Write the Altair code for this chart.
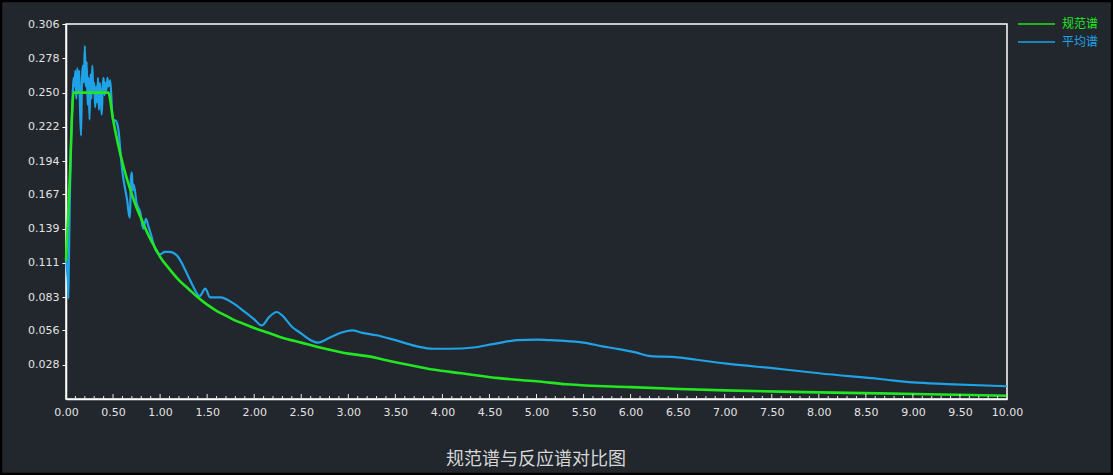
import altair as alt
import pandas as pd

# ---- data ----
code_T = [0.0, 0.04, 0.08, 0.10, 0.45, 0.50, 0.55, 0.60, 0.65, 0.70, 0.75, 0.80, 0.85, 0.90,
          0.95, 1.00, 1.10, 1.20, 1.30, 1.40, 1.50, 1.60, 1.70, 1.80, 1.90, 2.00, 2.15, 2.30,
          2.50, 2.70, 3.00, 3.20, 3.50, 3.70, 3.90, 4.20, 4.60, 5.00, 5.32, 6.00, 6.52, 7.00,
          7.59, 8.00, 8.65, 9.30, 10.00]
code_v = [0.113, 0.180, 0.250, 0.250, 0.250, 0.228, 0.209, 0.193, 0.179, 0.167, 0.156, 0.147,
          0.138, 0.130, 0.123, 0.116, 0.106, 0.097, 0.090, 0.083, 0.077, 0.072, 0.068, 0.064,
          0.061, 0.058, 0.054, 0.050, 0.046, 0.042, 0.037, 0.035, 0.030, 0.027, 0.024, 0.021,
          0.017, 0.0145, 0.012, 0.0097, 0.0082, 0.0070, 0.0060, 0.0054, 0.0046, 0.0037, 0.0027]

avg_T = [0.00, 0.01, 0.02, 0.025, 0.03, 0.04, 0.05, 0.06, 0.07, 0.08, 0.09, 0.10, 0.11, 0.12,
         0.13, 0.14, 0.15, 0.16, 0.17, 0.18, 0.19, 0.20, 0.21, 0.22, 0.23, 0.24, 0.25, 0.26,
         0.27, 0.28, 0.29, 0.30, 0.31, 0.32, 0.33, 0.34, 0.35, 0.36, 0.37, 0.38, 0.39, 0.40,
         0.41, 0.42, 0.43, 0.44, 0.45, 0.47, 0.49, 0.50, 0.53, 0.56, 0.58, 0.60, 0.62, 0.65,
         0.67, 0.68, 0.69, 0.70, 0.71, 0.72, 0.75, 0.79, 0.82, 0.85, 0.875, 0.90, 0.95, 1.00,
         1.05, 1.10, 1.18, 1.25, 1.30, 1.35, 1.42, 1.48, 1.53, 1.64, 1.78, 1.90, 2.00, 2.08,
         2.16, 2.24, 2.30, 2.40, 2.49, 2.60, 2.68, 2.80, 2.92, 3.04, 3.15, 3.30, 3.50, 3.73,
         3.90, 4.08, 4.33, 4.55, 4.79, 5.00, 5.14, 5.30, 5.50, 5.70, 5.85, 6.05, 6.21, 6.50,
         6.70, 7.00, 7.59, 8.00, 8.65, 9.00, 9.36, 10.00]
avg_v = [0.117, 0.105, 0.095, 0.082, 0.110, 0.160, 0.200, 0.225, 0.245, 0.262, 0.255, 0.268,
         0.245, 0.270, 0.250, 0.268, 0.235, 0.215, 0.262, 0.272, 0.258, 0.288, 0.255, 0.275,
         0.240, 0.262, 0.228, 0.265, 0.245, 0.272, 0.250, 0.258, 0.238, 0.255, 0.242, 0.262,
         0.236, 0.258, 0.245, 0.232, 0.255, 0.262, 0.248, 0.258, 0.252, 0.262, 0.255, 0.260,
         0.235, 0.228, 0.227, 0.218, 0.200, 0.185, 0.175, 0.162, 0.150, 0.148, 0.180, 0.185,
         0.170, 0.175, 0.160, 0.152, 0.139, 0.147, 0.141, 0.135, 0.122, 0.118, 0.120, 0.120,
         0.117, 0.108, 0.100, 0.092, 0.084, 0.090, 0.083, 0.083, 0.078, 0.071, 0.065, 0.060,
         0.067, 0.071, 0.068, 0.059, 0.054, 0.048, 0.046, 0.050, 0.054, 0.056, 0.054, 0.052,
         0.048, 0.043, 0.041, 0.041, 0.042, 0.045, 0.048, 0.0485, 0.048, 0.0475, 0.046, 0.043,
         0.041, 0.038, 0.035, 0.034, 0.032, 0.029, 0.0245, 0.021, 0.0163, 0.0135, 0.0122, 0.0104]

series_names = ["规范谱", "平均谱"]
series_colors = ["#22e622", "#1fa3e6"]
title_text = "规范谱与反应谱对比图"

y_ticks = [0.028, 0.056, 0.083, 0.111, 0.139, 0.167, 0.194, 0.222, 0.250, 0.278, 0.306]
x_major = [i * 0.5 for i in range(21)]
x_minor = [i * 0.1 for i in range(101) if i % 5 != 0]

# ---- chart ----
W, H = 941, 375
BG = "#22262d"
LBL = "#e2e2e2"

xscale = alt.Scale(domain=[0, 10], nice=False, zero=False)
yscale = alt.Scale(domain=[0, 0.306], nice=False)

df_avg = pd.DataFrame({"T": avg_T, "v": avg_v})
df_code = pd.DataFrame({"T": code_T, "v": code_v})


def xaxis():
    return alt.Axis(values=x_major, format=".2f", tickSize=0, labelPadding=7, grid=False,
                    domainColor="#ffffff", domainWidth=1.5, labelColor=LBL, labelFontSize=11,
                    labelFont="DejaVu Sans", labelOverlap=False, labelFlush=False, title="")


def yaxis():
    return alt.Axis(values=y_ticks, format=".3f", tickSize=4, tickColor="#ffffff", tickWidth=1,
                    labelPadding=3, grid=False, domainColor="#ffffff", domainWidth=1.5,
                    labelColor=LBL, labelFontSize=11, labelFont="DejaVu Sans", labelOverlap=False,
                    labelFlush=False, title="")


blue = alt.Chart(df_avg).mark_line(color=series_colors[1], strokeWidth=2.2, interpolate="monotone").encode(
    x=alt.X("T:Q", scale=xscale, axis=xaxis()),
    y=alt.Y("v:Q", scale=yscale, axis=yaxis()),
)
green = alt.Chart(df_code).mark_line(color=series_colors[0], strokeWidth=2.6, interpolate="monotone").encode(
    x=alt.X("T:Q", scale=xscale, axis=xaxis()),
    y=alt.Y("v:Q", scale=yscale, axis=yaxis()),
)

major_ticks = alt.Chart(pd.DataFrame({"T": x_major})).mark_rule(color="#e8e8e8", strokeWidth=1).encode(
    x=alt.X("T:Q", scale=xscale, axis=xaxis()),
    y=alt.value(H - 5), y2=alt.value(H),
)
minor_ticks = alt.Chart(pd.DataFrame({"T": x_minor})).mark_rule(color="#e8e8e8", strokeWidth=1).encode(
    x=alt.X("T:Q", scale=xscale, axis=xaxis()),
    y=alt.value(H - 3), y2=alt.value(H),
)

legend_layers = []
for i, (name, col) in enumerate(zip(series_names, series_colors)):
    d = alt.Data(values=[{"name": name}])
    legend_layers.append(
        alt.Chart(d).mark_rule(color=col, strokeWidth=1.5).encode(
            x=alt.value(952), x2=alt.value(989), y=alt.value(0 + 18 * i)
        )
    )
    legend_layers.append(
        alt.Chart(d).mark_text(color=col, fontSize=12, font="Noto Sans CJK SC", align="left",
                               baseline="middle").encode(
            x=alt.value(996), y=alt.value(0 + 18 * i), text="name:N"
        )
    )

title = alt.Chart(alt.Data(values=[{"t": title_text}])).mark_text(
    color="#d6d6d6", fontSize=18, font="Noto Sans CJK SC", align="center", baseline="middle"
).encode(x=alt.value(470), y=alt.value(436), text="t:N")

border = alt.Chart(alt.Data(values=[{"a": 1}])).mark_rect(
    fillOpacity=0, stroke="#000000", strokeWidth=2.5
).encode(x=alt.value(-65), x2=alt.value(1046), y=alt.value(-23), y2=alt.value(450))

chart = alt.layer(blue, green, major_ticks, minor_ticks, *legend_layers, title, border).properties(
    width=W, height=H,
    autosize=alt.AutoSizeParams(type="none"),
    padding={"left": 66, "top": 24, "right": 106, "bottom": 76},
    background=BG,
).configure_view(stroke="#ffffff", strokeWidth=1.5).configure_axis(labelOverlap=False)

chart.save("out.html", embed_options={"renderer": "svg", "actions": False})
